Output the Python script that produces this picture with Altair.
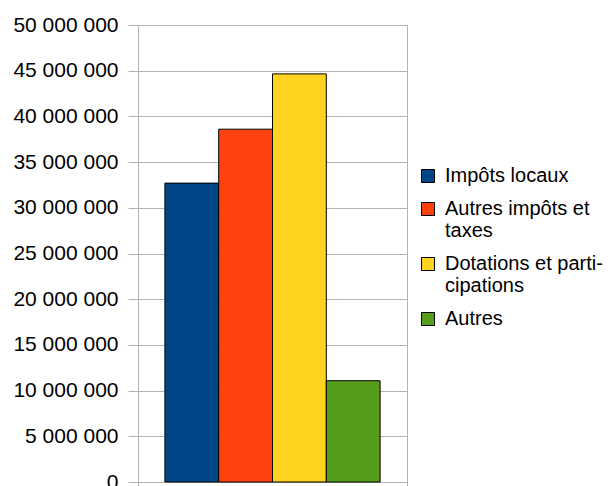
import altair as alt
import pandas as pd

categories = ["Impôts locaux", "Autres impôts et taxes", "Dotations et participations", "Autres"]
legend_labels = ["Impôts locaux", "Autres impôts et|taxes", "Dotations et parti-|cipations", "Autres"]
values = [32700000, 38600000, 44650000, 11080000]
colors = ["#004586", "#ff420e", "#ffd320", "#579d1c"]
y_ticks = [0, 5000000, 10000000, 15000000, 20000000, 25000000, 30000000, 35000000, 40000000, 45000000, 50000000]

df = pd.DataFrame({"grp": [""] * 4, "cat": categories, "val": values})

label_map = "{" + ",".join(f"'{c}':'{l}'" for c, l in zip(categories, legend_labels)) + "}"

font = "Liberation Sans"

chart = alt.Chart(df).mark_bar(stroke="black", strokeWidth=1).encode(
    x=alt.X("grp:N", title=None,
            scale=alt.Scale(paddingInner=0, paddingOuter=0),
            axis=alt.Axis(labels=False, domain=False, ticks=True, tickBand="extent",
                          tickColor="#b3b3b3", tickSize=5, grid=False)),
    xOffset=alt.XOffset("cat:N", sort=categories,
                        scale=alt.Scale(paddingInner=0, paddingOuter=0.5)),
    y=alt.Y("val:Q", title=None,
            scale=alt.Scale(domain=[0, 50000000], nice=False),
            axis=alt.Axis(values=y_ticks, domain=False, tickColor="#b3b3b3", tickSize=10,
                          labelPadding=10, gridColor="#b3b3b3", labelFontSize=21,
                          labelFont=font, labelColor="#000000",
                          labelExpr="replace(replace(format(datum.value, ','), ',', ' '), ',', ' ')")),
    color=alt.Color("cat:N", sort=categories,
                    scale=alt.Scale(domain=categories, range=colors),
                    legend=alt.Legend(title=None, orient="none", legendX=280, legendY=141,
                                      symbolType="square", symbolSize=169,
                                      symbolStrokeColor="black", symbolStrokeWidth=1,
                                      labelFont=font, labelFontSize=20, labelColor="#000000",
                                      labelOffset=7, labelLimit=300, rowPadding=13,
                                      labelExpr="split(" + label_map + "[datum.label], '|')")),
).properties(
    width=269, height=457,
    padding={"left": 130, "top": 17, "right": 200, "bottom": 10},
    autosize=alt.AutoSizeParams(type="none"),
).configure_view(stroke="#b3b3b3", strokeWidth=1)

chart.save("out.html", embed_options={"renderer": "svg", "actions": False})
